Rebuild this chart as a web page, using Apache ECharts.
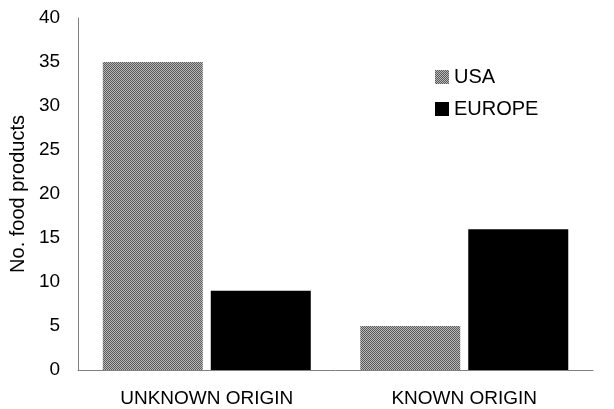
<!DOCTYPE html>
<html>
<head>
<meta charset="utf-8">
<script src="https://cdn.jsdelivr.net/npm/echarts@6/dist/echarts.min.js"></script>
<style>
  html, body { margin: 0; padding: 0; background: #fff; }
  #chart { width: 614px; height: 409px; }
</style>
</head>
<body>
<div id="chart"></div>
<script>
var categories = ['UNKNOWN ORIGIN', 'KNOWN ORIGIN'];
var usaValues = [35, 5];
var europeValues = [9, 16];
var yTicks = { min: 0, max: 40, interval: 5 };

// checkered fill for the USA bars
function makeChecker() {
    var c = document.createElement('canvas');
    c.width = 2; c.height = 2;
    var ctx = c.getContext('2d');
    ctx.fillStyle = '#b8b8b8';
    ctx.fillRect(0, 0, 2, 2);
    ctx.fillStyle = '#5a5a5a';
    ctx.fillRect(0, 0, 1, 1);
    ctx.fillRect(1, 1, 1, 1);
    return c;
}
var checker = { image: makeChecker(), repeat: 'repeat' };

var chart = echarts.init(document.getElementById('chart'), null, { renderer: 'canvas' });
var font = 'Liberation Sans, Arial, sans-serif';

chart.setOption({
    animation: false,
    textStyle: { fontFamily: font },
    grid: { left: 78, right: 21, top: 18, bottom: 39, containLabel: false },
    legend: {
        orient: 'vertical',
        left: 435,
        top: 67,
        padding: 0,
        itemWidth: 14,
        itemHeight: 14,
        itemGap: 12,
        icon: 'rect',
        textStyle: { fontSize: 20, color: '#000', fontFamily: font },
        data: ['USA', 'EUROPE']
    },
    xAxis: {
        type: 'category',
        data: categories,
        axisLine: { lineStyle: { color: '#808080', width: 1 } },
        axisTick: { show: false },
        axisLabel: { fontSize: 19, color: '#000', margin: 19, fontFamily: font }
    },
    yAxis: {
        type: 'value',
        min: yTicks.min,
        max: yTicks.max,
        interval: yTicks.interval,
        name: 'No. food products',
        nameLocation: 'middle',
        nameGap: 48,
        nameTextStyle: { fontSize: 20, color: '#000', fontFamily: font },
        splitLine: { show: false },
        axisLine: { show: true, lineStyle: { color: '#808080', width: 1 } },
        axisTick: { show: false },
        axisLabel: { fontSize: 19, color: '#000', margin: 18, fontFamily: font }
    },
    series: [
        {
            name: 'USA',
            type: 'bar',
            data: usaValues,
            barWidth: 100,
            barGap: '8%',
            itemStyle: { color: checker }
        },
        {
            name: 'EUROPE',
            type: 'bar',
            data: europeValues,
            barWidth: 100,
            itemStyle: { color: '#000' }
        }
    ]
});
</script>
</body>
</html>
